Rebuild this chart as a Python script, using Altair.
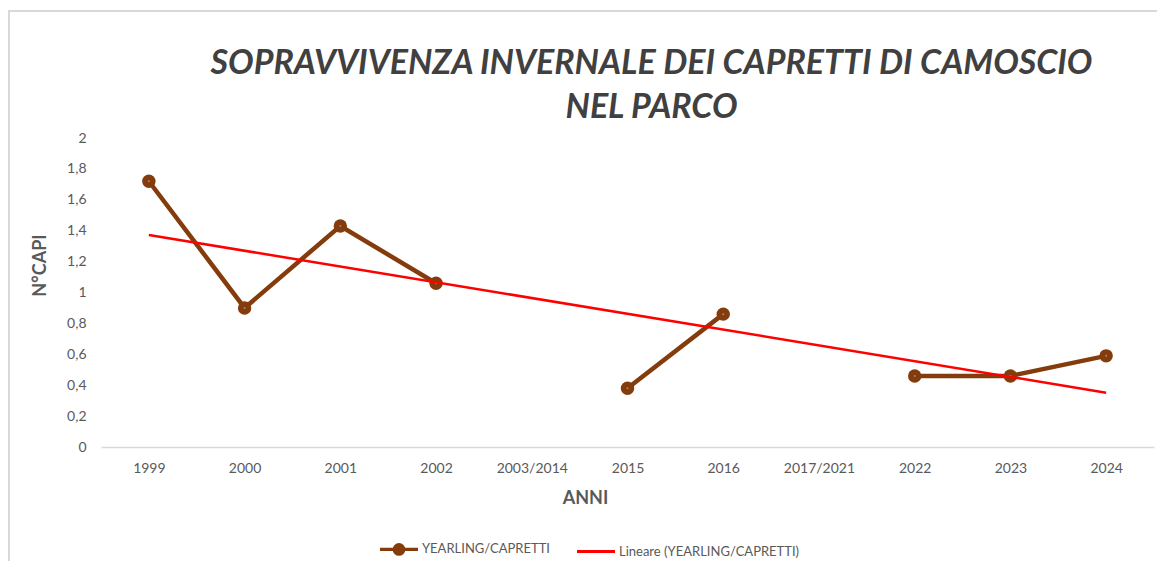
import altair as alt
import pandas as pd

categories = ["1999", "2000", "2001", "2002", "2003/2014", "2015", "2016",
              "2017/2021", "2022", "2023", "2024"]
values = [1.72, 0.90, 1.43, 1.06, None, 0.38, 0.86, None, 0.46, 0.46, 0.59]
y_ticks = [0, 0.2, 0.4, 0.6, 0.8, 1.0, 1.2, 1.4, 1.6, 1.8, 2.0]
series_names = ["YEARLING/CAPRETTI", "Lineare (YEARLING/CAPRETTI)"]
title_lines = ["SOPRAVVIVENZA INVERNALE DEI CAPRETTI DI CAMOSCIO", "NEL PARCO"]

BROWN = "#843C0C"
RED = "#FF0000"
GREY = "#595959"
FONT = "Lato"

df = pd.DataFrame({"anno": categories, "val": values})
df["idx"] = range(1, len(categories) + 1)

label_expr = "[" + ",".join("'" + c + "'" for c in categories) + "][datum.value - 1]"

x_axis = alt.Axis(
    values=list(range(1, len(categories) + 1)),
    labelExpr=label_expr,
    title="ANNI",
    titleFontSize=18, titleFontWeight="bold", titleColor=GREY, titleFont=FONT,
    titleX=484, titleY=51, titleBaseline="middle",
    labelFontSize=14, labelColor=GREY, labelFont=FONT, labelPadding=14,
    ticks=False, grid=False, domainColor="#D9D9D9", domainWidth=1.3,
    labelFlush=False, labelOverlap=False,
)
y_axis = alt.Axis(
    values=y_ticks,
    labelExpr="replace(format(datum.value, '.1~f'), '.', ',')",
    title="N°CAPI",
    titleFontSize=18, titleFontWeight="bold", titleColor=GREY, titleFont=FONT,
    titleX=-61, titleY=127, titleBaseline="middle",
    labelFontSize=14, labelColor=GREY, labelFont=FONT, labelPadding=15,
    ticks=False, grid=False, domain=False, labelOverlap=False,
)
x_scale = alt.Scale(domain=[0.5, len(categories) + 0.5], nice=False, zero=False)
y_scale = alt.Scale(domain=[0, 2], nice=False)


def xy():
    return dict(x=alt.X("idx:Q", scale=x_scale, axis=x_axis),
                y=alt.Y("val:Q", scale=y_scale, axis=y_axis))


base = alt.Chart(df)

line = base.mark_line(color=BROWN, strokeWidth=4.5,
                      invalid="break-paths-show-domains").encode(**xy())
pts = base.transform_filter("isValid(datum.val)").mark_circle(
    color=BROWN, size=180, opacity=1).encode(**xy())
dots = base.transform_filter("isValid(datum.val)").mark_circle(
    color="#9a8a80", size=4, opacity=1).encode(**xy())
trend = base.transform_filter("isValid(datum.val)").transform_regression(
    "idx", "val", method="linear").mark_line(color=RED, strokeWidth=2.5).encode(**xy())

p1 = ("M-1,0L1,0M-0.25,0A0.25,0.25,0,1,1,0.25,0A0.25,0.25,0,1,1,-0.25,0"
      "M-0.1,0A0.1,0.1,0,1,1,0.1,0A0.1,0.1,0,1,1,-0.1,0")
p2 = "M-1,0L1,0"
legend_cfg = dict(title=None, orient="none", legendX=277, legendY=390,
                  direction="horizontal", symbolSize=1444,
                  symbolStrokeWidth=3.2, labelFontSize=13, labelLimit=0,
                  labelColor=GREY, labelFont=FONT, columnPadding=20,
                  labelOffset=2, padding=0)
legend_df = pd.DataFrame({"serie": series_names})
legend_layer = alt.Chart(legend_df).transform_filter("false").mark_point(
    filled=False, strokeWidth=3.5, opacity=1).encode(
    color=alt.Color("serie:N", scale=alt.Scale(domain=series_names, range=[BROWN, RED]),
                    legend=alt.Legend(**legend_cfg)),
    shape=alt.Shape("serie:N", scale=alt.Scale(domain=series_names, range=[p1, p2]),
                    legend=alt.Legend(**legend_cfg)),
)

frame_src = alt.Data(values=[{"k": 1}])
frame_top = alt.Chart(frame_src).mark_rule(color="#D9D9D9", strokeWidth=2).encode(
    x=alt.value(-93), x2=alt.value(1060), y=alt.value(-127))
frame_left = alt.Chart(frame_src).mark_rule(color="#D9D9D9", strokeWidth=2).encode(
    x=alt.value(-92), y=alt.value(-128), y2=alt.value(430))

chart = alt.layer(frame_top, frame_left, line, pts, dots, trend, legend_layer).properties(
    width=1053, height=309,
    padding={"left": 93, "top": 130, "right": 3, "bottom": 114},
    autosize=alt.AutoSizeParams(type="none"),
    title=alt.TitleParams(
        text=title_lines, font=FONT, fontSize=34, fontStyle="italic", fontWeight="bold",
        color="#404040", anchor="middle", dx=24, dy=122, lineHeight=44, offset=6,
    ),
).configure_view(stroke=None).configure_axisY(labelOverlap=False).resolve_scale(color="shared")

chart.save("out.html", embed_options={"renderer": "svg", "actions": False})
